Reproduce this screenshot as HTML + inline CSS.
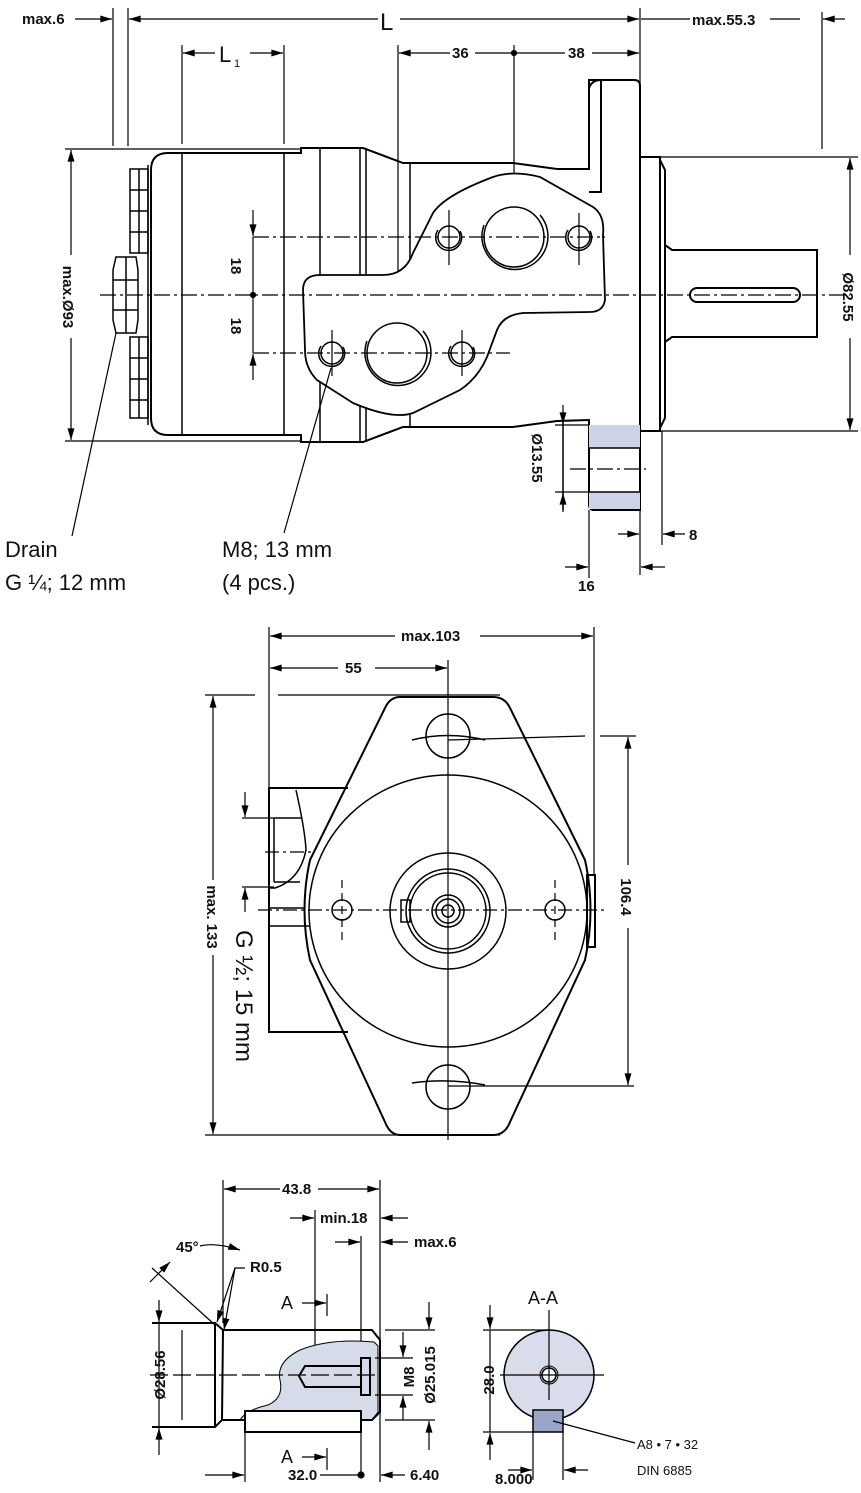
<!DOCTYPE html>
<html><head><meta charset="utf-8"><style>
html,body{margin:0;padding:0;background:#fff}
svg{display:block}
.d{font-family:"Liberation Sans Narrow","Liberation Sans",sans-serif;font-size:15px;font-weight:bold;fill:#111}
.t{font-family:"Liberation Sans",sans-serif;font-size:22px;fill:#111}
</style></head><body>
<svg width="861" height="1493" viewBox="0 0 861 1493" xmlns="http://www.w3.org/2000/svg">
<defs>
<marker id="a" viewBox="0 0 10 6" refX="10" refY="3" markerWidth="18" markerHeight="7" markerUnits="userSpaceOnUse" orient="auto-start-reverse"><path d="M0,0L10,3L0,6Z" fill="#000"/></marker>
</defs>
<g fill="none" stroke="#000" stroke-width="1.2">
<line x1="75" y1="19" x2="112" y2="19" marker-end="url(#a)"/>
<line x1="113" y1="8" x2="113" y2="146"/><line x1="128" y1="8" x2="128" y2="146"/>
<line x1="129" y1="19" x2="378" y2="19" marker-start="url(#a)"/>
<line x1="400" y1="19" x2="639" y2="19" marker-end="url(#a)"/>
<line x1="640" y1="8" x2="640" y2="575"/>
<line x1="641" y1="19" x2="690" y2="19"/><line x1="770" y1="19" x2="800" y2="19"/>
<line x1="845" y1="19" x2="823" y2="19" marker-end="url(#a)"/>
<line x1="822" y1="12" x2="822" y2="149"/>
<line x1="182" y1="45" x2="182" y2="144"/><line x1="284" y1="45" x2="284" y2="144"/>
<line x1="183" y1="53" x2="215" y2="53" marker-start="url(#a)"/><line x1="250" y1="53" x2="283" y2="53" marker-end="url(#a)"/>
<line x1="398" y1="45" x2="398" y2="402"/>
<line x1="399" y1="53" x2="450" y2="53" marker-start="url(#a)"/><line x1="475" y1="53" x2="565" y2="53"/><line x1="592" y1="53" x2="639" y2="53" marker-end="url(#a)"/>
<line x1="514" y1="45" x2="514" y2="282"/>
<line x1="65" y1="149" x2="300" y2="149"/><line x1="65" y1="441" x2="300" y2="441"/>
<line x1="71" y1="150" x2="71" y2="255" marker-start="url(#a)"/><line x1="71" y1="338" x2="71" y2="440" marker-end="url(#a)"/>
<line x1="660" y1="157" x2="858" y2="157"/><line x1="660" y1="431" x2="858" y2="431"/>
<line x1="850" y1="158" x2="850" y2="255" marker-start="url(#a)"/><line x1="850" y1="338" x2="850" y2="430" marker-end="url(#a)"/>
<g stroke-width="2">
<path d="M151,170 Q151,153 168,153 L301,153 L301,148 L363,148 L403,163 L513,163 L557,169 L589,169 L589,80 L634,80 Q640,80 640,86 L640,510 L594,510 Q589,510 589,504 L589,420 L557,421 L513,427 L403,427 L363,442 L301,442 L301,435 L168,435 Q151,435 151,418 Z"/>
<path d="M589,88 Q592,80 601,80 L601,192 L589,192"/>
<line x1="563" y1="169" x2="589" y2="169"/>
<rect x="640" y="157" width="20" height="274"/>
<path d="M660,160 L665,170 L665,418 L660,428"/>
<path d="M665,245 L672,250 L817,250 L817,337 L672,337 L665,342"/>
<rect x="690" y="288" width="110" height="14" rx="7"/>
</g>
<g stroke-width="1.5">
<line x1="182" y1="153" x2="182" y2="435"/><line x1="284" y1="153" x2="284" y2="435"/>
<line x1="320" y1="148" x2="320" y2="442"/><line x1="360" y1="148" x2="360" y2="442"/><line x1="366" y1="148" x2="366" y2="442"/><line x1="410" y1="163" x2="410" y2="427"/>
<line x1="563" y1="420" x2="563" y2="510"/>
</g>
<rect x="589" y="425" width="51" height="23" fill="#cdd4e8" stroke="none"/>
<rect x="589" y="492" width="51" height="17" fill="#cdd4e8" stroke="none"/>
<line x1="589" y1="448" x2="640" y2="448" stroke-width="1.5"/><line x1="589" y1="492" x2="640" y2="492" stroke-width="1.5"/>
<g stroke-width="1.5">
<rect x="130" y="169" width="18" height="84"/><rect x="130" y="337" width="18" height="81"/>
<path d="M130,190H148M130,211H148M130,232H148M130,358H148M130,379H148M130,400H148M139,169V253M139,337V418"/>
<path d="M116,257H136L138,270V320L136,333H116L113,320V270Z"/>
<path d="M113,280H138M113,310H138M126,257V333"/>
<line x1="148" y1="165" x2="148" y2="425"/>
</g>
<path stroke-width="1.8" fill="#fff" d="M303,290 Q303,275 320,275 L383,275 Q405,275 413,253 L433,213 Q445,195 493,177 Q513,170 540,177 L593,207 Q605,215 603,235 L605,300 Q603,312 590,312 L523,313 Q503,315 497,330 L487,357 Q478,378 460,390 L413,413 Q393,420 353,403 L317,380 Q305,368 305,350 Z"/>
<g stroke-width="1.5">
<circle cx="449" cy="237" r="11"/><path d="M438,230 A13,13 0 1,0 460,231"/>
<circle cx="579" cy="237" r="11"/><path d="M568,230 A13,13 0 1,0 590,231"/>
<circle cx="514" cy="237" r="30"/><path d="M484,225 A33,33 0 1,0 540,215"/>
<circle cx="332" cy="353" r="11"/><path d="M321,346 A13,13 0 1,0 343,347"/>
<circle cx="462" cy="353" r="11"/><path d="M451,346 A13,13 0 1,0 473,347"/>
<circle cx="397" cy="353" r="30"/><path d="M367,341 A33,33 0 1,0 423,331"/>
</g>
<g stroke-dasharray="16,4,3,4">
<line x1="100" y1="295" x2="850" y2="295"/>
<line x1="253" y1="237" x2="605" y2="237"/>
<line x1="253" y1="353" x2="510" y2="353"/>
<line x1="570" y1="469" x2="646" y2="469"/>
</g>
<line x1="449" y1="210" x2="449" y2="265"/><line x1="579" y1="213" x2="579" y2="265"/>
<line x1="332" y1="330" x2="332" y2="376"/><line x1="462" y1="330" x2="462" y2="376"/>
<line x1="253" y1="210" x2="253" y2="236" marker-end="url(#a)"/><line x1="253" y1="380" x2="253" y2="354" marker-end="url(#a)"/>
<line x1="253" y1="237" x2="253" y2="353"/>
<circle cx="253" cy="295" r="2.5" fill="#000"/>
<circle cx="514" cy="53" r="2.5" fill="#000"/>
<line x1="555" y1="425" x2="589" y2="425"/><line x1="555" y1="492" x2="589" y2="492"/>
<line x1="563" y1="405" x2="563" y2="424" marker-end="url(#a)"/><line x1="563" y1="512" x2="563" y2="493" marker-end="url(#a)"/>
<line x1="662" y1="431" x2="662" y2="545"/>
<line x1="589" y1="510" x2="589" y2="578"/>
<line x1="618" y1="534" x2="639" y2="534" marker-end="url(#a)"/><line x1="685" y1="534" x2="663" y2="534" marker-end="url(#a)"/>
<line x1="565" y1="567" x2="588" y2="567" marker-end="url(#a)"/><line x1="665" y1="567" x2="641" y2="567" marker-end="url(#a)"/>
<line x1="116" y1="333" x2="72" y2="536"/>
<line x1="331" y1="368" x2="284" y2="533"/>

<line x1="269" y1="627" x2="269" y2="1032"/><line x1="594" y1="627" x2="594" y2="875"/>
<line x1="270" y1="636" x2="395" y2="636" marker-start="url(#a)"/><line x1="480" y1="636" x2="593" y2="636" marker-end="url(#a)"/>
<line x1="270" y1="668" x2="338" y2="668" marker-start="url(#a)"/><line x1="375" y1="668" x2="447" y2="668" marker-end="url(#a)"/>
<line x1="205" y1="695" x2="255" y2="695"/><line x1="278" y1="695" x2="500" y2="695"/>
<line x1="205" y1="1135" x2="500" y2="1135"/>
<line x1="213" y1="696" x2="213" y2="880" marker-start="url(#a)"/><line x1="213" y1="955" x2="213" y2="1134" marker-end="url(#a)"/>
<line x1="448" y1="740" x2="585" y2="736"/><line x1="600" y1="736" x2="636" y2="736"/>
<line x1="448" y1="1086" x2="634" y2="1086"/>
<line x1="628" y1="737" x2="628" y2="865" marker-start="url(#a)"/><line x1="628" y1="928" x2="628" y2="1085" marker-end="url(#a)"/>
<g stroke-width="2">
<path d="M400,697 L493,697 Q505,697 510,708 L585,860 Q596,910 585,960 L510,1122 Q505,1135 493,1135 L400,1135 Q390,1135 385,1122 L310,960 Q299,910 310,860 L385,708 Q390,697 400,697 Z"/>
<path d="M348,788 L269,788 L269,1032 L348,1032"/>
<rect x="587" y="875" width="8" height="72"/>
</g>
<g stroke-width="1.5">
<ellipse cx="448" cy="911" rx="139" ry="136"/>
<circle cx="448" cy="736" r="22"/><circle cx="448" cy="1087" r="22"/>
<path d="M412,740 Q448,731 485,740"/><path d="M412,1083 Q448,1078 485,1085"/>
<circle cx="448" cy="911" r="58"/><circle cx="448" cy="911" r="42"/><circle cx="448" cy="911" r="38"/>
<circle cx="448" cy="911" r="16"/><circle cx="448" cy="911" r="12"/><circle cx="448" cy="911" r="6"/>
<rect x="401" y="900" width="9" height="22"/>
<circle cx="342" cy="910" r="10"/><circle cx="555" cy="910" r="10"/>
<path d="M296,790 Q305,830 306,850 Q300,880 275,888 L269,888"/>
<path d="M274,818 L302,818 M274,818 L274,882 M274,882 L300,882"/>
<line x1="269" y1="908" x2="305" y2="908"/><line x1="269" y1="926" x2="310" y2="926"/>
</g>
<line x1="448" y1="660" x2="448" y2="1140"/>
<g stroke-dasharray="14,4,3,4"><line x1="258" y1="910" x2="605" y2="910"/><line x1="265" y1="852" x2="315" y2="852"/></g>
<line x1="342" y1="880" x2="342" y2="945" stroke-dasharray="8,5"/><line x1="555" y1="880" x2="555" y2="945" stroke-dasharray="8,5"/>
<line x1="242" y1="818" x2="274" y2="818"/><line x1="242" y1="887" x2="274" y2="887"/>
<line x1="245" y1="792" x2="245" y2="817" marker-end="url(#a)"/><line x1="245" y1="912" x2="245" y2="888" marker-end="url(#a)"/>

<line x1="223" y1="1180" x2="223" y2="1323"/><line x1="380" y1="1180" x2="380" y2="1482"/>
<line x1="224" y1="1189" x2="280" y2="1189" marker-start="url(#a)"/><line x1="318" y1="1189" x2="379" y2="1189" marker-end="url(#a)"/>
<line x1="315" y1="1210" x2="315" y2="1392"/><line x1="361" y1="1236" x2="361" y2="1475"/>
<line x1="290" y1="1218" x2="314" y2="1218" marker-end="url(#a)"/><line x1="408" y1="1218" x2="381" y2="1218" marker-end="url(#a)"/>
<line x1="335" y1="1242" x2="360" y2="1242" marker-end="url(#a)"/><line x1="408" y1="1242" x2="381" y2="1242" marker-end="url(#a)"/>
<path d="M152,1268 L215,1325"/><path d="M200,1246 Q215,1242 240,1250" marker-end="url(#a)"/>
<path d="M150,1282 L170,1262" marker-end="url(#a)"/>
<path d="M245,1268 L235,1268 L217,1322" marker-end="url(#a)"/><path d="M235,1268 L224,1330" marker-end="url(#a)"/>
<path d="M374,1342 Q330,1338 300,1350 Q276,1362 280,1380 Q284,1398 268,1405 Q246,1410 240,1420 L372,1420 L378,1412 L378,1346 Z" fill="#d6dbea" stroke="#000" stroke-width="1"/>
<g stroke-width="2">
<path d="M152,1323 L215,1323 L223,1330 L222,1420 L215,1427 L152,1427"/>
<line x1="215" y1="1323" x2="215" y2="1427"/>
<path d="M223,1330 L372,1330 L380,1340 L380,1412 L372,1420 L223,1420"/>
<rect x="245" y="1411" width="116" height="21" fill="#fff"/>
<path d="M361,1366 L305,1366 L299,1376 L305,1387 L361,1387"/>
<path d="M361,1358 L370,1358 L370,1395 L361,1395 Z"/>
</g>
<line x1="182" y1="1330" x2="182" y2="1420"/>
<line x1="150" y1="1375" x2="380" y2="1375" stroke-dasharray="18,5"/>
<line x1="159" y1="1300" x2="159" y2="1322" marker-end="url(#a)"/><line x1="159" y1="1455" x2="159" y2="1428" marker-end="url(#a)"/>
<line x1="159" y1="1322" x2="159" y2="1428"/>
<line x1="375" y1="1358" x2="413" y2="1358"/><line x1="375" y1="1395" x2="413" y2="1395"/>
<line x1="403" y1="1332" x2="403" y2="1357" marker-end="url(#a)"/><line x1="403" y1="1420" x2="403" y2="1396" marker-end="url(#a)"/>
<line x1="385" y1="1330" x2="435" y2="1330"/><line x1="385" y1="1420" x2="435" y2="1420"/>
<line x1="429" y1="1302" x2="429" y2="1329" marker-end="url(#a)"/><line x1="429" y1="1450" x2="429" y2="1421" marker-end="url(#a)"/>
<line x1="302" y1="1303" x2="326" y2="1303" marker-end="url(#a)"/><line x1="327" y1="1294" x2="327" y2="1316"/>
<line x1="302" y1="1457" x2="326" y2="1457" marker-end="url(#a)"/><line x1="327" y1="1448" x2="327" y2="1470"/>
<line x1="245" y1="1432" x2="245" y2="1482"/>
<line x1="205" y1="1475" x2="244" y2="1475" marker-end="url(#a)"/><line x1="320" y1="1475" x2="361" y2="1475"/>
<circle cx="361" cy="1475" r="3" fill="#000"/>
<line x1="405" y1="1475" x2="381" y2="1475" marker-end="url(#a)"/>
<circle cx="549" cy="1375" r="45" fill="#d9dcea" stroke-width="1.5"/>
<rect x="533" y="1410" width="30" height="22" fill="#9aa6c8" stroke="#000" stroke-width="1.5"/>
<circle cx="549" cy="1375" r="7" fill="#fff" stroke-width="1.5"/><circle cx="549" cy="1375" r="9" stroke-width="1"/>
<line x1="500" y1="1375" x2="604" y2="1375"/><line x1="549" y1="1310" x2="549" y2="1400"/>
<line x1="483" y1="1330" x2="548" y2="1330"/><line x1="483" y1="1432" x2="533" y2="1432"/>
<line x1="490" y1="1305" x2="490" y2="1329" marker-end="url(#a)"/><line x1="490" y1="1460" x2="490" y2="1433" marker-end="url(#a)"/>
<line x1="490" y1="1330" x2="490" y2="1432"/>
<line x1="533" y1="1432" x2="533" y2="1480"/><line x1="563" y1="1432" x2="563" y2="1480"/>
<line x1="508" y1="1470" x2="532" y2="1470" marker-end="url(#a)"/><line x1="588" y1="1470" x2="564" y2="1470" marker-end="url(#a)"/>
<line x1="553" y1="1421" x2="635" y2="1443"/>
</g>

<text class="d" x="22" y="24">max.6</text>
<text x="380" y="30" style="font-family:'Liberation Sans',sans-serif;font-size:24px;fill:#111">L</text>
<text class="d" x="692" y="25">max.55.3</text>
<text x="219" y="62" style="font-family:'Liberation Sans',sans-serif;font-size:22px;fill:#111">L</text><text x="234" y="67" style="font-family:'Liberation Sans',sans-serif;font-size:11px;fill:#111">1</text>
<text class="d" x="452" y="58">36</text><text class="d" x="568" y="58">38</text>
<text class="d" transform="translate(63,297) rotate(90)" text-anchor="middle">max.Ø93</text>
<text class="d" transform="translate(843,297) rotate(90)" text-anchor="middle">Ø82.55</text>
<text class="d" transform="translate(231,266) rotate(90)" text-anchor="middle">18</text>
<text class="d" transform="translate(231,326) rotate(90)" text-anchor="middle">18</text>
<text class="d" transform="translate(532,458) rotate(90)" text-anchor="middle">Ø13.55</text>
<text class="d" x="689" y="540">8</text>
<text class="d" x="578" y="591">16</text>
<text class="t" x="5" y="557">Drain</text>
<text class="t" x="5" y="590">G ¼; 12 mm</text>
<text class="t" x="222" y="557">M8; 13 mm</text>
<text class="t" x="222" y="590">(4 pcs.)</text>
<text class="d" x="401" y="641">max.103</text>
<text class="d" x="345" y="673">55</text>
<text class="d" transform="translate(207,917) rotate(90)" text-anchor="middle">max. 133</text>
<text class="d" transform="translate(621,897) rotate(90)" text-anchor="middle">106.4</text>
<text class="t" transform="translate(236,930) rotate(90)" style="font-size:24px">G ½; 15 mm</text>
<text class="d" x="282" y="1194">43.8</text>
<text class="d" x="320" y="1223">min.18</text>
<text class="d" x="414" y="1247">max.6</text>
<text class="d" x="176" y="1252">45°</text>
<text class="d" x="250" y="1272">R0.5</text>
<text x="281" y="1309" style="font-family:'Liberation Sans',sans-serif;font-size:18px;fill:#111">A</text>
<text x="281" y="1463" style="font-family:'Liberation Sans',sans-serif;font-size:18px;fill:#111">A</text>
<text class="d" transform="translate(165,1375) rotate(-90)" text-anchor="middle">Ø28.56</text>
<text class="d" transform="translate(414,1377) rotate(-90)" text-anchor="middle">M8</text>
<text class="d" transform="translate(435,1375) rotate(-90)" text-anchor="middle">Ø25.015</text>
<text class="d" x="288" y="1480">32.0</text>
<text class="d" x="410" y="1480">6.40</text>
<text x="528" y="1304" style="font-family:'Liberation Sans',sans-serif;font-size:18px;fill:#111">A-A</text>
<text class="d" transform="translate(494,1380) rotate(-90)" text-anchor="middle">28.0</text>
<text class="d" x="495" y="1484">8.000</text>
<text x="637" y="1449" style="font-family:'Liberation Sans',sans-serif;font-size:13px;fill:#111">A8 • 7 • 32</text>
<text x="637" y="1475" style="font-family:'Liberation Sans',sans-serif;font-size:13px;fill:#111">DIN 6885</text>
</svg>
</body></html>
